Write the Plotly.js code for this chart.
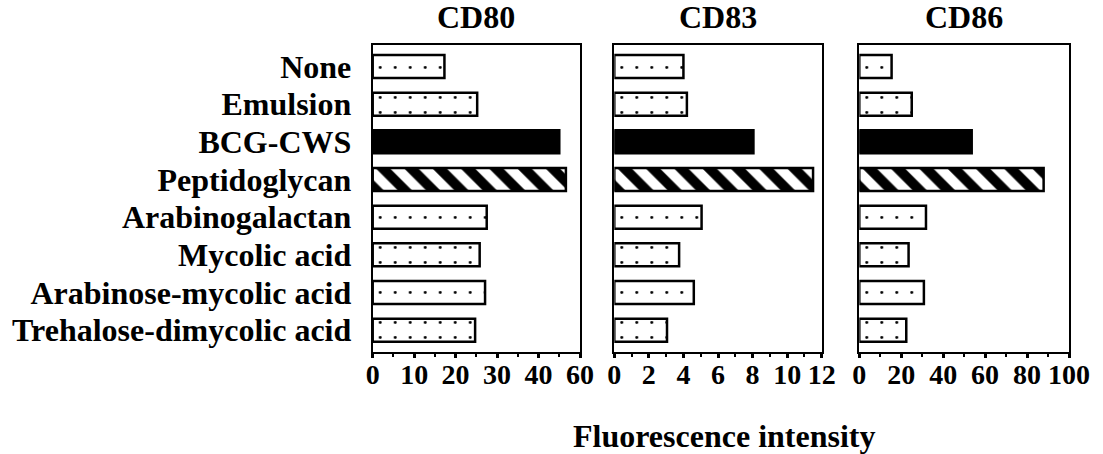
<!DOCTYPE html>
<html>
<head>
<meta charset="utf-8">
<script src="https://cdn.plot.ly/plotly-3.0.1.min.js"></script>
<style>
  html, body { margin: 0; padding: 0; background: #fff; }
  #chart { width: 1103px; height: 454px; }
</style>
</head>
<body>
<div id="chart"></div>
<script>
// Treatments, top to bottom
const treatments = [
  'None', 'Emulsion', 'BCG-CWS', 'Peptidoglycan',
  'Arabinogalactan', 'Mycolic acid', 'Arabinose-mycolic acid', 'Trehalose-dimycolic acid'
];

// Mean fluorescence intensity per marker
const cd80 = [17.3, 25.2, 45.0, 46.6, 27.5, 25.8, 27.1, 24.7];
const cd83 = [4.0, 4.2, 8.05, 11.5, 5.05, 3.75, 4.6, 3.05];
const cd86 = [15.4, 25.0, 53.6, 87.9, 31.8, 23.5, 30.8, 22.4];

// Panel titles and tick labels
const markers = ['CD80', 'CD83', 'CD86'];
const cd80Ticks = [0, 10, 20, 30, 40, 50];
const cd80TickText = ['0', '10', '20', '30', '40', '60'];
const cd83Ticks = [0, 2, 4, 6, 8, 10, 12];
const cd86Ticks = [0, 20, 40, 60, 80, 100];

const FONT = 'Liberation Serif, Times New Roman, serif';

// Fill styles: most treatments dotted, BCG-CWS solid, peptidoglycan hatched
const styles = {
  dotted:  { color: 'white', pattern: { shape: '.', fgcolor: 'black', size: 15, solidity: 0.03 } },
  solid:   { color: 'black' },
  hatched: { color: 'white', pattern: { shape: '\\', fgcolor: 'black', size: 20, solidity: 0.5 } }
};
const styleOf = t => t === 'BCG-CWS' ? 'solid' : (t === 'Peptidoglycan' ? 'hatched' : 'dotted');

function panelTraces(values, ax) {
  return Object.keys(styles).map(key => {
    const idx = treatments.map((t, i) => i).filter(i => styleOf(treatments[i]) === key);
    return {
      type: 'bar',
      orientation: 'h',
      x: idx.map(i => values[i]),
      y: idx.map(i => treatments[i]),
      xaxis: 'x' + ax,
      yaxis: 'y' + ax,
      width: 0.61,
      marker: Object.assign({ line: { color: 'black', width: 2.5 } }, styles[key]),
      hoverinfo: 'x+y',
      showlegend: false
    };
  });
}

const data = [].concat(panelTraces(cd80, ''), panelTraces(cd83, '2'), panelTraces(cd86, '3'));

const W = 1103, H = 454;
const domains = [
  [372.7 / W, 580 / W],
  [614.3 / W, 821.7 / W],
  [859.3 / W, 1069 / W]
];
const yDom = [1 - 352 / H, 1 - 45 / H];

function xAxis(dom, range, tickvals, ticktext, minorStep, anchor) {
  return {
    domain: dom,
    anchor: anchor,
    range: range,
    tickmode: 'array',
    tickvals: tickvals,
    ticktext: ticktext,
    ticks: 'outside',
    ticklen: 4,
    tickwidth: 2.5,
    tickcolor: 'black',
    ticklabelstandoff: -8,
    minor: { ticks: 'outside', ticklen: 3, tickwidth: 1.5, tickcolor: 'black', dtick: minorStep, tick0: 0 },
    showline: true,
    mirror: true,
    linecolor: 'black',
    linewidth: 2,
    showgrid: false,
    zeroline: false,
    fixedrange: true,
    tickfont: { family: FONT, size: 28, color: 'black', weight: 'bold' }
  };
}

function yAxis(anchor, showLabels) {
  return {
    domain: yDom,
    anchor: anchor,
    type: 'category',
    categoryorder: 'array',
    categoryarray: treatments,
    tickmode: 'array',
    tickvals: treatments,
    ticktext: treatments,
    range: [7.58, -0.57],
    showticklabels: showLabels,
    ticks: '',
    ticklabelstandoff: 13,
    showline: true,
    mirror: true,
    linecolor: 'black',
    linewidth: 2,
    showgrid: false,
    zeroline: false,
    fixedrange: true,
    tickfont: { family: FONT, size: 32, color: 'black', weight: 'bold' }
  };
}

const titleFont = { family: FONT, size: 32, color: 'black', weight: 'bold' };

const annotations = markers.map((m, i) => ({
  text: m,
  xref: 'paper', yref: 'paper',
  x: (domains[i][0] + domains[i][1]) / 2,
  y: 1 - 17 / H,
  xanchor: 'center', yanchor: 'middle',
  showarrow: false,
  font: titleFont
}));
annotations.push({
  text: 'Fluorescence intensity',
  xref: 'paper', yref: 'paper',
  x: 724 / W,
  y: 1 - 436 / H,
  xanchor: 'center', yanchor: 'middle',
  showarrow: false,
  font: titleFont
});

const layout = {
  width: W,
  height: H,
  autosize: false,
  margin: { l: 0, r: 0, t: 0, b: 0 },
  paper_bgcolor: 'white',
  plot_bgcolor: 'white',
  barmode: 'overlay',
  xaxis: xAxis(domains[0], [0, 50], cd80Ticks, cd80TickText, 5, 'y'),
  xaxis2: xAxis(domains[1], [0, 12], cd83Ticks, cd83Ticks.map(String), 1, 'y2'),
  xaxis3: xAxis(domains[2], [0, 100], cd86Ticks, cd86Ticks.map(String), 10, 'y3'),
  yaxis: yAxis('x', true),
  yaxis2: yAxis('x2', false),
  yaxis3: yAxis('x3', false),
  annotations: annotations
};

Plotly.newPlot('chart', data, layout, { displayModeBar: false });
</script>
</body>
</html>
